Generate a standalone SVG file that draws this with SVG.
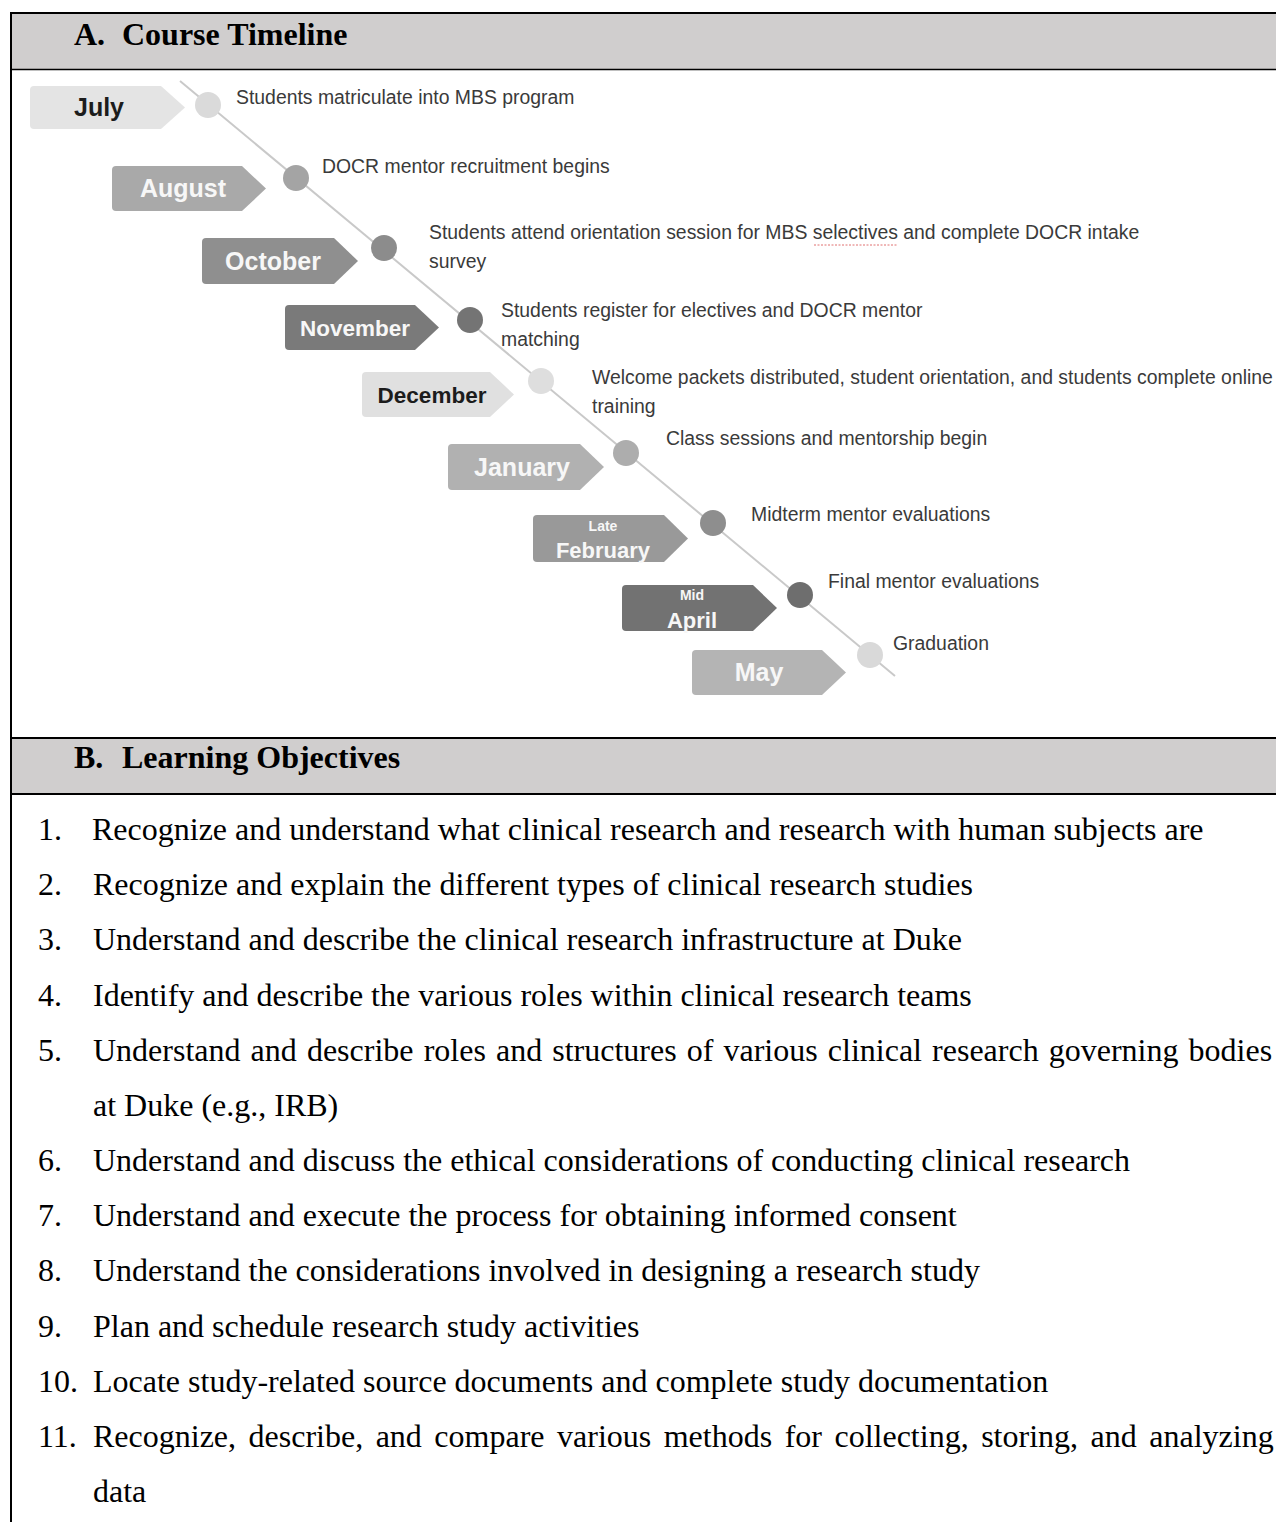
<svg xmlns="http://www.w3.org/2000/svg" width="1276" height="1522" viewBox="0 0 1276 1522">
<style>
.hdr{font-family:"Liberation Serif","Times New Roman",serif;font-weight:bold;font-size:32px;fill:#000}
.li{font-family:"Liberation Serif","Times New Roman",serif;font-size:32px;fill:#000}
.desc{font-family:"Liberation Sans",Arial,sans-serif;font-size:19.4px;fill:#3a3a3a}
.mon{font-family:"Liberation Sans",Arial,sans-serif;font-weight:bold;text-anchor:middle;fill:#f7f7f7}
.dark{fill:#1c1c1c}
.small{font-size:14px}
.band{fill:#d0cece}
.rule{stroke:#000;fill:none}
</style>
<rect width="1276" height="1522" fill="#ffffff"/>

<!-- Table frame -->
<g id="section-a-header">
<rect class="band" x="11" y="13" width="1265" height="56"/>
<line class="rule" x1="10" y1="13" x2="1276" y2="13" stroke-width="2"/>
<line class="rule" x1="10" y1="69.5" x2="1276" y2="69.5" stroke-width="1.5"/>
<text class="hdr" x="74" y="45">A.</text>
<text class="hdr" x="122" y="45">Course Timeline</text>
</g>
<g id="section-b-header">
<rect class="band" x="11" y="739" width="1265" height="54"/>
<line class="rule" x1="10" y1="738" x2="1276" y2="738" stroke-width="2"/>
<line class="rule" x1="10" y1="794" x2="1276" y2="794" stroke-width="2"/>
<text class="hdr" x="74" y="768">B.</text>
<text class="hdr" x="122" y="768">Learning Objectives</text>
</g>
<line id="left-border" class="rule" x1="11" y1="12" x2="11" y2="1522" stroke-width="2"/>

<!-- Connectors -->
<g id="connectors">
<line x1="180" y1="81" x2="895" y2="676" stroke="#c9c9c9" stroke-width="2"/>
</g>

<!-- Timeline nodes -->
<g id="node-july">
<path d="M34,86 H161 L185,107.5 L161,129 H34 Q30,129 30,125 V90 Q30,86 34,86 Z" fill="#e4e4e4"/>
<text class="mon dark" x="99" y="116" font-size="25">July</text>
<circle cx="208" cy="105" r="13" fill="#dadada"/>
<text class="desc" x="236" y="104">Students matriculate into MBS program</text>
</g>
<g id="node-august">
<path d="M116,166 H242 L266,188.5 L242,211 H116 Q112,211 112,207 V170 Q112,166 116,166 Z" fill="#a9a9a9"/>
<text class="mon" x="183" y="197" font-size="25">August</text>
<circle cx="296" cy="178" r="13" fill="#a4a4a4"/>
<text class="desc" x="322" y="173">DOCR mentor recruitment begins</text>
</g>
<g id="node-october">
<path d="M206,238 H334 L358,261 L334,284 H206 Q202,284 202,280 V242 Q202,238 206,238 Z" fill="#8f8f8f"/>
<text class="mon" x="273" y="270" font-size="25">October</text>
<circle cx="384" cy="248" r="13" fill="#8c8c8c"/>
<text class="desc" x="429" y="239">Students attend orientation session for MBS selectives and complete DOCR intake</text>
<line x1="814" y1="245" x2="898" y2="245" stroke="#e07070" stroke-width="1" stroke-dasharray="2 1.5"/>
<text class="desc" x="429" y="268">survey</text>
</g>
<g id="node-november">
<path d="M289,305 H415 L439,327.5 L415,350 H289 Q285,350 285,346 V309 Q285,305 289,305 Z" fill="#7a7a7a"/>
<text class="mon" x="355" y="336" font-size="22.5">November</text>
<circle cx="470" cy="320" r="13" fill="#747474"/>
<text class="desc" x="501" y="317">Students register for electives and DOCR mentor</text>
<text class="desc" x="501" y="346">matching</text>
</g>
<g id="node-december">
<path d="M366,372 H490 L514,394.5 L490,417 H366 Q362,417 362,413 V376 Q362,372 366,372 Z" fill="#e0e0e0"/>
<text class="mon dark" x="432" y="403" font-size="22.5">December</text>
<circle cx="541" cy="381" r="13" fill="#dedede"/>
<text class="desc" x="592" y="384">Welcome packets distributed, student orientation, and students complete online</text>
<text class="desc" x="592" y="413">training</text>
</g>
<g id="node-january">
<path d="M452,444 H580 L604,467 L580,490 H452 Q448,490 448,486 V448 Q448,444 452,444 Z" fill="#b1b1b1"/>
<text class="mon" x="522" y="476" font-size="25">January</text>
<circle cx="626" cy="453" r="13" fill="#adadad"/>
<text class="desc" x="666" y="445">Class sessions and mentorship begin</text>
</g>
<g id="node-late-february">
<path d="M537,515 H664 L688,538.5 L664,562 H537 Q533,562 533,558 V519 Q533,515 537,515 Z" fill="#999999"/>
<text class="mon small" x="603" y="531">Late</text>
<text class="mon" x="603" y="558" font-size="22">February</text>
<circle cx="713" cy="523" r="13" fill="#8e8e8e"/>
<text class="desc" x="751" y="521">Midterm mentor evaluations</text>
</g>
<g id="node-mid-april">
<path d="M626,585 H753 L777,608 L753,631 H626 Q622,631 622,627 V589 Q622,585 626,585 Z" fill="#727272"/>
<text class="mon small" x="692" y="600">Mid</text>
<text class="mon" x="692" y="628" font-size="22">April</text>
<circle cx="800" cy="595" r="13" fill="#6e6e6e"/>
<text class="desc" x="828" y="588">Final mentor evaluations</text>
</g>
<g id="node-may">
<path d="M696,650 H822 L846,672.5 L822,695 H696 Q692,695 692,691 V654 Q692,650 696,650 Z" fill="#b4b4b4"/>
<text class="mon" x="759" y="681" font-size="25">May</text>
<circle cx="870" cy="655" r="13" fill="#d9d9d9"/>
<text class="desc" x="893" y="650">Graduation</text>
</g>

<!-- Learning objectives -->
<g id="objectives">
<text class="li" x="38" y="840">1.</text><text class="li" x="92" y="840">Recognize and understand what clinical research and research with human subjects are</text>
<text class="li" x="38" y="895">2.</text><text class="li" x="93" y="895">Recognize and explain the different types of clinical research studies</text>
<text class="li" x="38" y="950">3.</text><text class="li" x="93" y="950">Understand and describe the clinical research infrastructure at Duke</text>
<text class="li" x="38" y="1006">4.</text><text class="li" x="93" y="1006">Identify and describe the various roles within clinical research teams</text>
<text class="li" x="38" y="1061">5.</text><text class="li" x="93" y="1061" word-spacing="2.1">Understand and describe roles and structures of various clinical research governing bodies</text>
<text class="li" x="93" y="1116">at Duke (e.g., IRB)</text>
<text class="li" x="38" y="1171">6.</text><text class="li" x="93" y="1171">Understand and discuss the ethical considerations of conducting clinical research</text>
<text class="li" x="38" y="1226">7.</text><text class="li" x="93" y="1226">Understand and execute the process for obtaining informed consent</text>
<text class="li" x="38" y="1281">8.</text><text class="li" x="93" y="1281">Understand the considerations involved in designing a research study</text>
<text class="li" x="38" y="1337">9.</text><text class="li" x="93" y="1337">Plan and schedule research study activities</text>
<text class="li" x="38" y="1392">10.</text><text class="li" x="93" y="1392">Locate study-related source documents and complete study documentation</text>
<text class="li" x="38" y="1447">11.</text><text class="li" x="93" y="1447" word-spacing="4.5">Recognize, describe, and compare various methods for collecting, storing, and analyzing</text>
<text class="li" x="93" y="1502">data</text>
</g>
</svg>
